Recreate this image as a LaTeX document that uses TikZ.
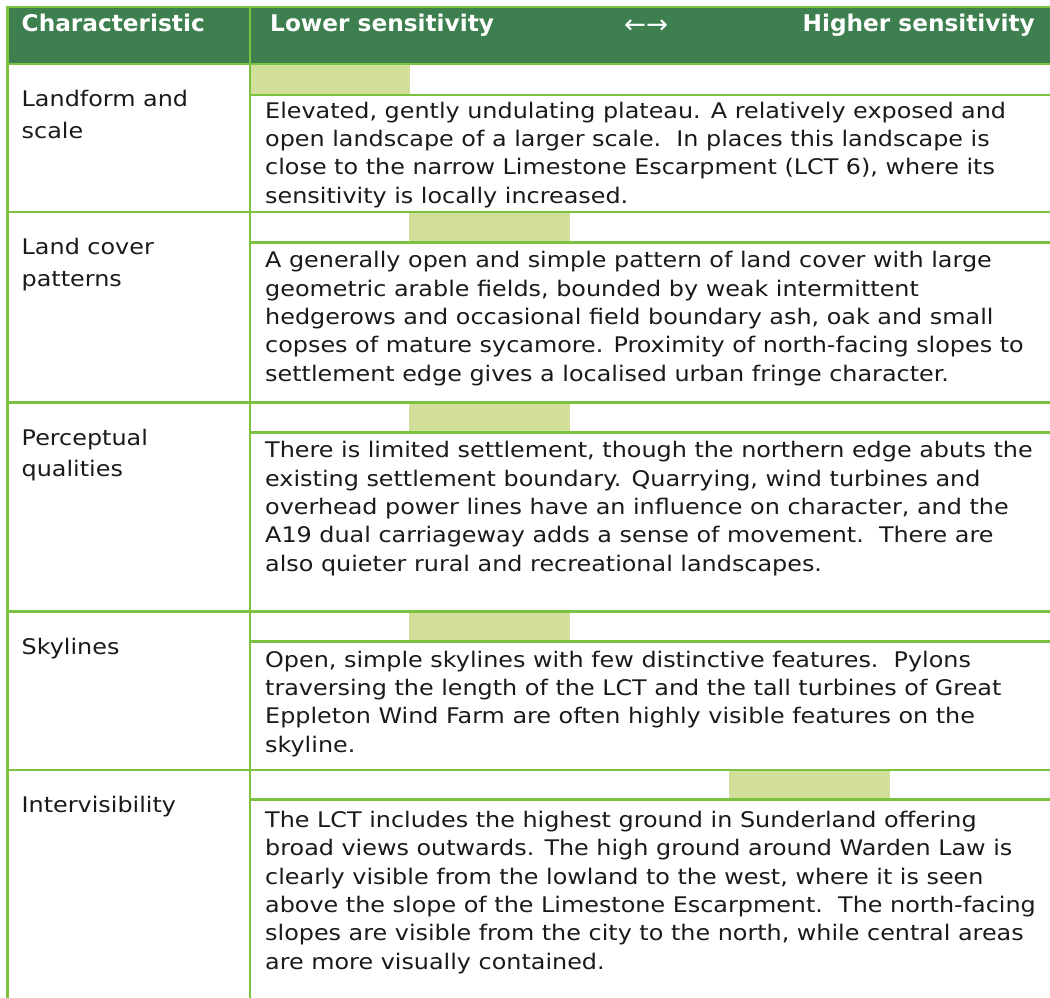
\documentclass[tikz,border=0pt]{standalone}
\usepackage{fontspec}
\setmainfont{DejaVu Sans}[FakeStretch=1.11]
\newfontfamily\hdrfont{DejaVu Sans}[FakeStretch=1.01]
\definecolor{hdr}{RGB}{61,127,79}
\definecolor{rulegreen}{RGB}{125,193,66}
\definecolor{barfill}{RGB}{209,223,155}
\definecolor{txt}{RGB}{26,26,26}
\begin{document}
\begin{tikzpicture}[x=1pt,y=-1pt,
  gridline/.style={draw=rulegreen,line width=2.2pt},
  hdrtext/.style={font=\hdrfont\fontsize{23}{27}\selectfont\bfseries,text=white,inner sep=0pt},
  lefttext/.style={font=\fontsize{21.5}{31.5}\selectfont,text=txt,inner sep=0pt,anchor=base west,align=left},
  celltext/.style={font=\fontsize{21.5}{28.3}\selectfont,text=txt,inner sep=0pt,anchor=base west,align=left},
  sensbar/.style={fill=barfill,draw=none}]
\useasboundingbox (0,0) rectangle (1050,998);
% header
\fill[hdr] (7.5,7) rectangle (1050,64);
% sensitivity bars
\path[sensbar] (250,64) rectangle (410,95);
\path[sensbar] (409,212) rectangle (570,242.5);
\path[sensbar] (409,402.5) rectangle (570,432.5);
\path[sensbar] (409,611.5) rectangle (570,641.5);
\path[sensbar] (729,770) rectangle (890,799.5);
% grid
\draw[gridline] (7.5,7) -- (1050,7);
\draw[gridline] (7.5,64) -- (1050,64);
\draw[gridline] (250,95) -- (1050,95);
\draw[gridline] (7.5,212) -- (1050,212);
\draw[gridline] (250,242.5) -- (1050,242.5);
\draw[gridline] (7.5,402.5) -- (1050,402.5);
\draw[gridline] (250,432.5) -- (1050,432.5);
\draw[gridline] (7.5,611.5) -- (1050,611.5);
\draw[gridline] (250,641.5) -- (1050,641.5);
\draw[gridline] (7.5,770) -- (1050,770);
\draw[gridline] (250,799.5) -- (1050,799.5);
\draw[gridline] (7.5,6) -- (7.5,998);
\draw[gridline] (250,6) -- (250,998);
% header texts
\node[hdrtext,anchor=base west] (hchar) at (21.5,31.7) {Characteristic};
\node[hdrtext,anchor=base west] (hlow) at (270,31.7) {Lower sensitivity};
\node[hdrtext,anchor=base west,font=\hdrfont\fontsize{26}{27}\selectfont] (harrow) at (624,34) {←→};
\node[hdrtext,anchor=base east] (hhigh) at (1035,31.7) {Higher sensitivity};
% left column (anchor = last line baseline)
\node[lefttext] (c1) at (21.5,138.2) {Landform and\\scale};
\node[lefttext] (c2) at (21.5,286) {Land cover\\patterns};
\node[lefttext] (c3) at (21.5,476.5) {Perceptual\\qualities};
\node[lefttext] (c4) at (21.5,654) {Skylines};
\node[lefttext] (c5) at (21.5,812.5) {Intervisibility};
% descriptions (anchor = last line baseline)
\node[celltext] (d1) at (265,203) {Elevated, gently undulating plateau. A relatively exposed and\\open landscape of a larger scale.\ \ In places this landscape is\\close to the narrow Limestone Escarpment (LCT 6), where its\\sensitivity is locally increased.};
\node[celltext] (d2) at (265,381) {A generally open and simple pattern of land cover with large\\geometric arable fields, bounded by weak intermittent\\hedgerows and occasional field boundary ash, oak and small\\copses of mature sycamore. Proximity of north-facing slopes to\\settlement edge gives a localised urban fringe character.};
\node[celltext] (d3) at (265,571) {There is limited settlement, though the northern edge abuts the\\existing settlement boundary. Quarrying, wind turbines and\\overhead power lines have an influence on character, and the\\A19 dual carriageway adds a sense of movement.\ \ There are\\also quieter rural and recreational landscapes.};
\node[celltext] (d4) at (265,752) {Open, simple skylines with few distinctive features.\ \ Pylons\\traversing the length of the LCT and the tall turbines of Great\\Eppleton Wind Farm are often highly visible features on the\\skyline.};
\node[celltext] (d5) at (265,969) {The LCT includes the highest ground in Sunderland offering\\broad views outwards. The high ground around Warden Law is\\clearly visible from the lowland to the west, where it is seen\\above the slope of the Limestone Escarpment.\ \ The north-facing\\slopes are visible from the city to the north, while central areas\\are more visually contained.};
\end{tikzpicture}
\end{document}
